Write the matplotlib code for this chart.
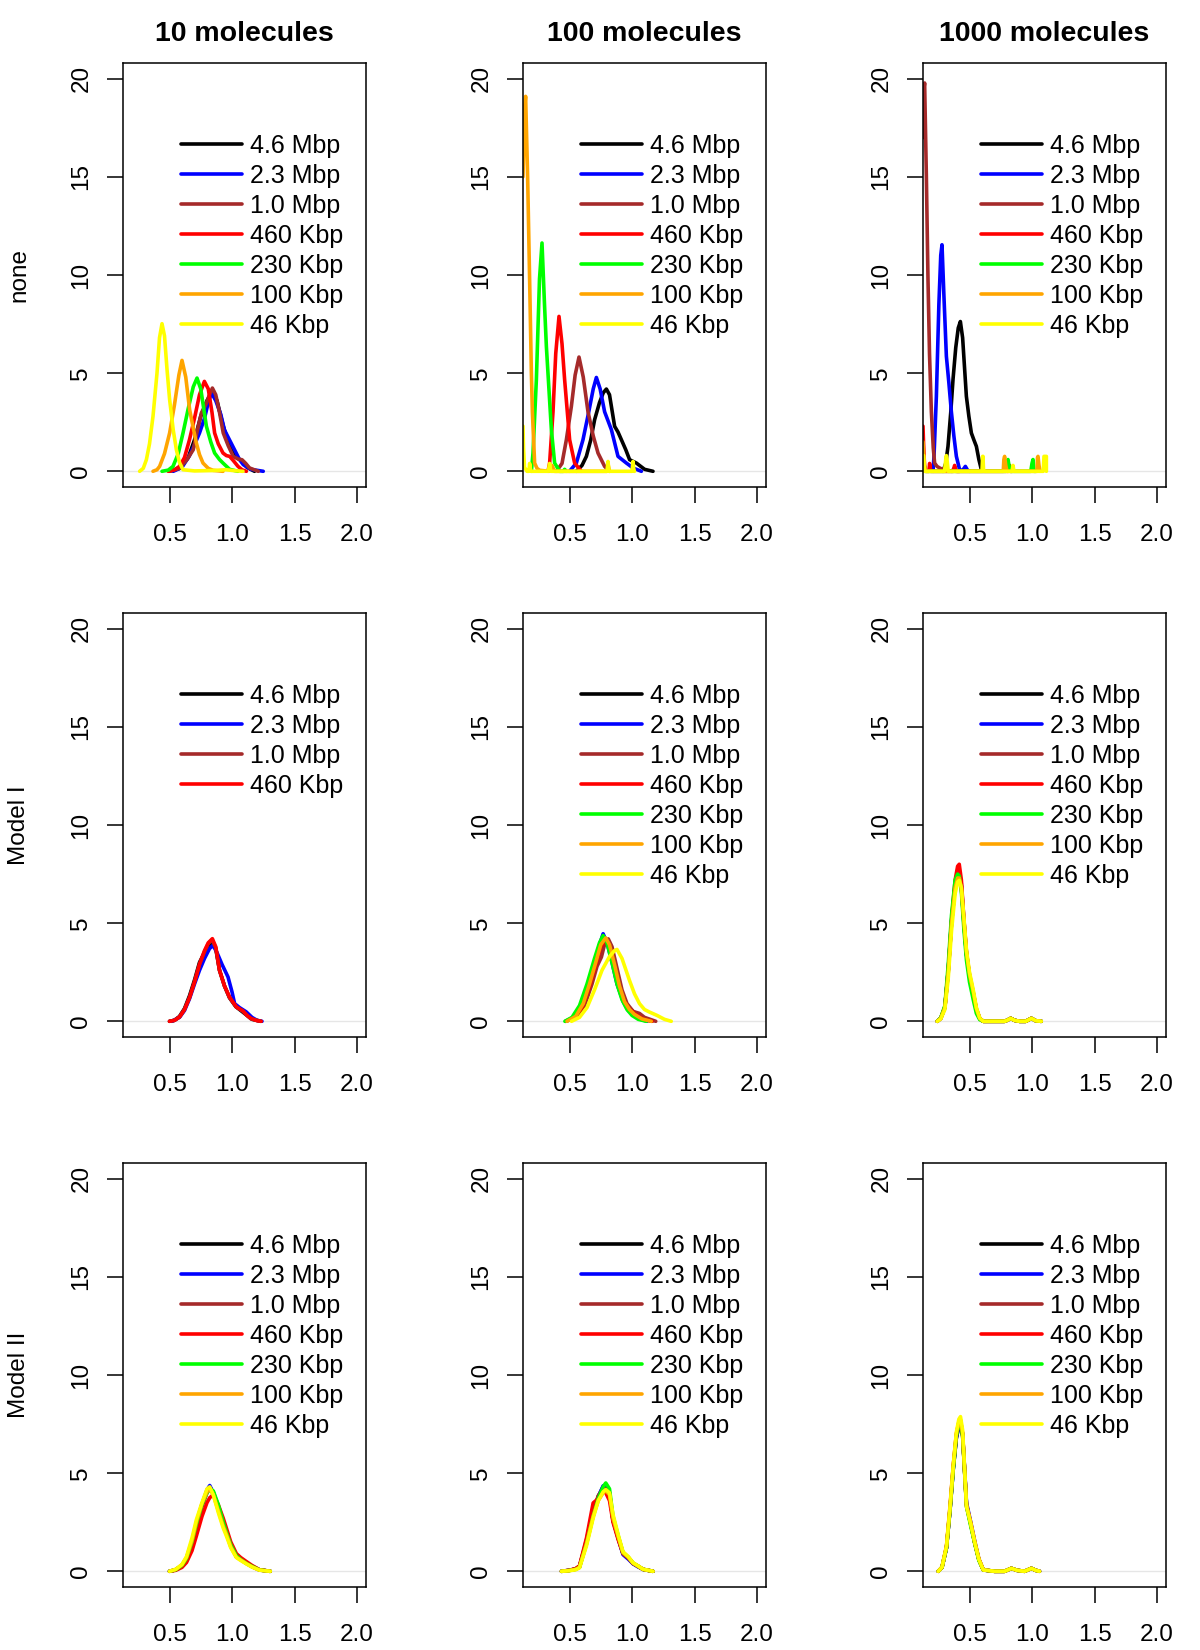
import matplotlib
matplotlib.use("Agg")
import matplotlib.pyplot as plt

plt.rcParams['font.family'] = ['Liberation Sans', 'DejaVu Sans']

# ---------------- data ----------------
col_titles = ["10 molecules", "100 molecules", "1000 molecules"]
row_labels = ["none", "Model I", "Model II"]
sizes = ["4.6 Mbp", "2.3 Mbp", "1.0 Mbp", "460 Kbp", "230 Kbp", "100 Kbp", "46 Kbp"]
colors = ["#000000", "#0000FF", "#A52A2A", "#FF0000", "#00FF00", "#FFA500", "#FFFF00"]
x_ticks = [0.5, 1.0, 1.5, 2.0]
y_ticks = [0, 5, 10, 15, 20]

# none, 10 molecules
none_10 = {
    "4.6 Mbp": ([0.50, 0.58, 0.65, 0.70, 0.75, 0.80, 0.84, 0.88, 0.93, 0.98, 1.02, 1.07, 1.12, 1.18],
                [0, 0.15, 0.7, 1.6, 2.8, 3.6, 4.05, 3.6, 2.3, 1.3, 0.8, 0.55, 0.2, 0]),
    "2.3 Mbp": ([0.53, 0.60, 0.66, 0.71, 0.74, 0.78, 0.81, 0.835, 0.87, 0.91, 0.94, 0.98, 1.02, 1.06, 1.09, 1.15, 1.25],
                [0, 0.2, 0.8, 1.5, 1.95, 2.7, 3.5, 4.0, 3.6, 2.9, 2.1, 1.6, 1.1, 0.6, 0.34, 0.1, 0]),
    "1.0 Mbp": ([0.50, 0.58, 0.64, 0.69, 0.72, 0.755, 0.79, 0.82, 0.843, 0.87, 0.90, 0.93, 0.97, 1.01, 1.05, 1.08, 1.11, 1.14, 1.21],
                [0, 0.15, 0.6, 1.1, 2.0, 2.97, 3.4, 3.9, 4.24, 3.9, 3.0, 1.95, 1.3, 0.76, 0.62, 0.59, 0.4, 0.17, 0]),
    "460 Kbp": ([0.49, 0.54, 0.58, 0.62, 0.66, 0.70, 0.74, 0.779, 0.81, 0.84, 0.861, 0.89, 0.928, 0.955, 0.981, 1.01, 1.048, 1.08, 1.115],
                [0, 0.08, 0.25, 0.7, 1.61, 2.7, 3.9, 4.58, 4.2, 3.0, 1.95, 1.4, 0.93, 0.8, 0.76, 0.55, 0.25, 0.08, 0]),
    "230 Kbp": ([0.44, 0.49, 0.528, 0.57, 0.608, 0.65, 0.69, 0.72, 0.75, 0.795, 0.83, 0.861, 0.90, 0.928, 0.981, 1.048],
                [0, 0.06, 0.25, 0.9, 1.95, 3.2, 4.3, 4.75, 4.2, 2.3, 1.5, 0.93, 0.6, 0.42, 0.1, 0]),
    "100 Kbp": ([0.368, 0.40, 0.421, 0.46, 0.501, 0.54, 0.575, 0.60, 0.63, 0.661, 0.69, 0.715, 0.74, 0.768, 0.81, 0.848, 0.928],
                [0, 0.08, 0.25, 0.9, 1.95, 3.4, 4.9, 5.65, 4.8, 3.14, 2.2, 1.44, 0.85, 0.42, 0.15, 0.05, 0]),
    "46 Kbp": ([0.261, 0.29, 0.315, 0.34, 0.368, 0.40, 0.42, 0.44, 0.46, 0.48, 0.501, 0.53, 0.555, 0.58, 0.608, 0.70, 0.85, 0.95, 1.02, 1.088],
               [0, 0.15, 0.59, 1.4, 2.8, 5.0, 6.8, 7.52, 6.9, 5.2, 3.65, 2.1, 1.1, 0.45, 0.08, 0.02, 0.04, 0.08, 0.03, 0]),
}

# none, 100 molecules
none_100 = {
    "4.6 Mbp": ([0.555, 0.60, 0.635, 0.67, 0.701, 0.74, 0.77, 0.795, 0.82, 0.861, 0.888, 0.915, 0.95, 0.981, 1.035, 1.07, 1.101, 1.168],
                [0, 0.3, 0.76, 1.6, 2.63, 3.5, 4.0, 4.19, 3.9, 2.29, 2.0, 1.61, 1.1, 0.59, 0.42, 0.25, 0.1, 0]),
    "2.3 Mbp": ([0.50, 0.555, 0.608, 0.65, 0.69, 0.715, 0.745, 0.781, 0.835, 0.888, 0.955, 1.008, 1.075],
                [0, 0.42, 1.61, 2.9, 4.2, 4.78, 4.2, 3.03, 2.12, 0.76, 0.42, 0.17, 0]),
    "1.0 Mbp": ([0.395, 0.44, 0.475, 0.515, 0.545, 0.576, 0.61, 0.648, 0.69, 0.728, 0.781, 0.821],
                [0, 0.4, 1.61, 3.31, 4.9, 5.82, 4.8, 3.03, 1.8, 0.93, 0.25, 0]),
    "460 Kbp": ([0.328, 0.341, 0.368, 0.39, 0.416, 0.44, 0.461, 0.501, 0.541, 0.595],
                [0, 0.42, 3.03, 6.0, 7.89, 6.5, 4.67, 1.61, 0.42, 0]),
    "230 Kbp": ([0.195, 0.208, 0.235, 0.26, 0.28, 0.30, 0.315, 0.355, 0.381, 0.421, 0.45, 0.461, 0.475],
                [0, 0.93, 4.67, 9.8, 11.63, 8.5, 6.36, 2.12, 0.42, 0, 0, 0.1, 0]),
    "100 Kbp": ([0.128, 0.14, 0.149, 0.165, 0.181, 0.195, 0.203, 0.221, 0.24, 0.261, 0.34, 0.36, 0.38, 0.43, 0.80, 0.81, 0.82],
                [15, 18.5, 19.1, 15, 9.76, 5, 3.03, 0.42, 0.15, 0.05, 0, 0.3, 0, 0, 0, 0.3, 0]),
    "46 Kbp": ([0.128, 0.132, 0.14, 0.16, 0.175, 0.181, 0.19, 0.33, 0.341, 0.35, 0.80, 0.808, 0.816, 1.0, 1.008, 1.016, 1.02],
               [2.3, 1.2, 0.2, 0, 0, 0.4, 0, 0, 0.4, 0, 0, 0.5, 0, 0, 0.5, 0, 0]),
}

# none, 1000 molecules
none_1000 = {
    "4.6 Mbp": ([0.288, 0.31, 0.328, 0.35, 0.368, 0.39, 0.41, 0.427, 0.445, 0.475, 0.495, 0.515, 0.535, 0.555, 0.575, 0.595],
                [0, 0.4, 1.27, 3.0, 4.67, 6.3, 7.3, 7.63, 6.8, 3.82, 2.8, 1.95, 1.6, 1.27, 0.6, 0.08]),
    "2.3 Mbp": ([0.208, 0.216, 0.235, 0.255, 0.27, 0.28, 0.295, 0.315, 0.335, 0.355, 0.375, 0.395, 0.421, 0.445, 0.467, 0.485, 0.501],
                [0, 0.76, 3.82, 8.5, 11.0, 11.54, 9.0, 5.86, 4.5, 3.03, 1.8, 0.76, 0.08, 0.05, 0.25, 0.05, 0]),
    "1.0 Mbp": ([0.128, 0.135, 0.141, 0.155, 0.168, 0.18, 0.195, 0.21, 0.221, 0.24, 0.261, 0.30, 0.36, 0.381, 0.40, 0.42],
                [17, 19.5, 19.78, 15, 9.76, 6, 3.03, 1.2, 0.42, 0.25, 0.17, 0.05, 0, 0.2, 0, 0]),
    "460 Kbp": ([0.128, 0.132, 0.14, 0.15, 0.175, 0.181, 0.19, 0.37, 0.381, 0.39, 0.81, 0.821, 0.83, 0.84],
                [2.3, 1.5, 0.3, 0, 0, 0.4, 0, 0, 0.3, 0, 0, 0.3, 0, 0]),
    "230 Kbp": ([0.128, 0.134, 0.145, 0.79, 0.80, 0.808, 0.816, 0.825, 0.99, 1.0, 1.008, 1.016, 1.03],
                [0.8, 0.5, 0, 0, 0.4, 0.6, 0.3, 0, 0, 0.4, 0.6, 0, 0]),
    "100 Kbp": ([0.128, 0.132, 0.14, 0.15, 0.77, 0.775, 0.781, 0.79, 0.80, 1.04, 1.044, 1.048, 1.056, 1.065],
                [1.5, 1.0, 0.3, 0, 0, 0.6, 0.76, 0.3, 0, 0, 0.7, 0.76, 0.3, 0]),
    "46 Kbp": ([0.128, 0.133, 0.14, 0.30, 0.31, 0.315, 0.32, 0.33, 0.60, 0.605, 0.608, 0.612, 0.62, 0.84, 0.848, 0.856, 1.09, 1.096, 1.10, 1.11, 1.115, 1.115],
               [0.8, 0.8, 0, 0, 0.6, 0.8, 0.6, 0, 0, 0.76, 0.76, 0.1, 0, 0, 0.3, 0, 0, 0.76, 0.76, 0.76, 0.76, 0]),
}

# Model I, 10 molecules
model1_10 = {
    "4.6 Mbp": ([0.50, 0.54, 0.58, 0.62, 0.66, 0.70, 0.74, 0.78, 0.81, 0.84, 0.87, 0.90, 0.94, 0.98, 1.03, 1.08, 1.12, 1.16, 1.23],
                [0, 0.05, 0.25, 0.65, 1.3, 2.1, 3.0, 3.5, 3.85, 4.0, 3.7, 2.6, 1.8, 1.2, 0.75, 0.5, 0.3, 0.1, 0]),
    "2.3 Mbp": ([0.52, 0.58, 0.62, 0.66, 0.70, 0.74, 0.78, 0.82, 0.848, 0.88, 0.92, 0.968, 1.0, 1.021, 1.06, 1.114, 1.16, 1.20, 1.24],
                [0, 0.2, 0.55, 1.15, 1.9, 2.6, 3.2, 3.7, 3.87, 3.5, 2.9, 2.26, 1.5, 0.9, 0.7, 0.48, 0.2, 0.05, 0]),
    "1.0 Mbp": ([0.50, 0.54, 0.58, 0.62, 0.66, 0.70, 0.74, 0.78, 0.81, 0.84, 0.87, 0.90, 0.94, 0.98, 1.035, 1.085, 1.12, 1.15, 1.23],
                [0, 0.05, 0.22, 0.6, 1.2, 2.0, 2.9, 3.55, 3.95, 4.15, 3.75, 2.6, 1.8, 1.2, 0.72, 0.52, 0.3, 0.13, 0]),
    "460 Kbp": ([0.50, 0.54, 0.58, 0.62, 0.662, 0.70, 0.742, 0.78, 0.81, 0.843, 0.87, 0.90, 0.94, 0.98, 1.035, 1.088, 1.12, 1.154, 1.20, 1.234],
                [0, 0.05, 0.22, 0.6, 1.24, 2.0, 2.94, 3.6, 4.0, 4.21, 3.8, 2.6, 1.8, 1.24, 0.73, 0.53, 0.3, 0.14, 0.03, 0]),
}

# Model I, 100 molecules
model1_100 = {
    "4.6 Mbp": ([0.47, 0.54, 0.60, 0.66, 0.71, 0.75, 0.78, 0.81, 0.85, 0.89, 0.93, 0.98, 1.03, 1.09, 1.16],
                [0, 0.2, 0.75, 1.8, 2.9, 3.8, 4.2, 3.9, 3.0, 1.9, 1.1, 0.65, 0.4, 0.12, 0]),
    "2.3 Mbp": ([0.47, 0.53, 0.59, 0.65, 0.70, 0.74, 0.769, 0.80, 0.84, 0.88, 0.93, 0.97, 1.02, 1.07, 1.12],
                [0, 0.2, 0.7, 1.7, 2.9, 3.9, 4.46, 4.0, 3.0, 1.9, 1.0, 0.55, 0.3, 0.1, 0]),
    "1.0 Mbp": ([0.47, 0.55, 0.62, 0.68, 0.72, 0.755, 0.78, 0.81, 0.84, 0.88, 0.92, 0.96, 1.01, 1.06, 1.10, 1.19],
                [0, 0.2, 0.8, 1.9, 2.8, 3.27, 3.9, 4.2, 3.8, 2.7, 1.6, 0.9, 0.5, 0.4, 0.2, 0]),
    "460 Kbp": ([0.47, 0.54, 0.60, 0.66, 0.71, 0.75, 0.78, 0.81, 0.85, 0.89, 0.93, 0.98, 1.03, 1.09, 1.16],
                [0, 0.2, 0.7, 1.8, 2.9, 3.8, 4.1, 3.95, 3.0, 1.9, 1.1, 0.6, 0.35, 0.1, 0]),
    "230 Kbp": ([0.463, 0.52, 0.58, 0.64, 0.70, 0.74, 0.769, 0.80, 0.84, 0.88, 0.92, 0.96, 1.0, 1.05, 1.114],
                [0, 0.2, 0.8, 1.9, 3.2, 4.0, 4.37, 4.0, 3.0, 1.9, 1.1, 0.6, 0.3, 0.1, 0]),
    "100 Kbp": ([0.48, 0.55, 0.61, 0.66, 0.71, 0.75, 0.79, 0.82, 0.86, 0.90, 0.94, 0.98, 1.02, 1.08, 1.154],
                [0, 0.25, 0.9, 1.9, 3.0, 3.9, 4.25, 3.9, 2.9, 1.8, 1.0, 0.6, 0.35, 0.12, 0]),
    "46 Kbp": ([0.516, 0.58, 0.64, 0.70, 0.76, 0.82, 0.86, 0.88, 0.92, 0.98, 1.02, 1.06, 1.10, 1.14, 1.20, 1.26, 1.314],
               [0, 0.2, 0.7, 1.6, 2.6, 3.3, 3.6, 3.66, 3.2, 2.08, 1.4, 0.9, 0.6, 0.47, 0.3, 0.1, 0]),
}

# Model I, 1000 molecules
m1k_x = [0.242, 0.27, 0.303, 0.33, 0.356, 0.385, 0.405, 0.418, 0.435, 0.455, 0.476, 0.50, 0.53, 0.555, 0.582, 0.61,
         0.70, 0.78, 0.80, 0.83, 0.86, 0.90, 0.95, 0.995, 1.03, 1.074]
model1_1000 = {
    "4.6 Mbp": (m1k_x, [0, 0.15, 0.7, 2.6, 5.0, 6.9, 7.4, 7.4, 6.8, 5.0, 3.4, 2.3, 1.4, 0.6, 0.14, 0, 0, 0, 0.05, 0.15, 0.05, 0, 0, 0.15, 0.03, 0]),
    "2.3 Mbp": (m1k_x, [0, 0.15, 0.72, 2.6, 5.1, 7.0, 7.5, 7.5, 6.9, 5.1, 3.4, 2.3, 1.4, 0.6, 0.14, 0, 0, 0, 0.05, 0.15, 0.05, 0, 0, 0.15, 0.03, 0]),
    "1.0 Mbp": (m1k_x, [0, 0.15, 0.7, 2.5, 5.0, 6.9, 7.5, 7.6, 7.0, 5.2, 3.5, 2.35, 1.45, 0.6, 0.14, 0, 0, 0, 0.05, 0.15, 0.05, 0, 0, 0.15, 0.03, 0]),
    "460 Kbp": (m1k_x, [0, 0.15, 0.73, 2.6, 5.14, 7.2, 7.9, 8.0, 7.2, 5.2, 3.45, 2.3, 1.41, 0.6, 0.14, 0, 0, 0, 0.05, 0.15, 0.05, 0, 0, 0.15, 0.03, 0]),
    "230 Kbp": (m1k_x, [0, 0.18, 0.8, 2.9, 5.4, 7.2, 7.5, 7.4, 6.6, 4.7, 3.1, 2.0, 1.1, 0.4, 0.08, 0, 0, 0, 0.05, 0.15, 0.05, 0, 0, 0.15, 0.03, 0]),
    "100 Kbp": (m1k_x, [0, 0.15, 0.7, 2.5, 5.0, 6.8, 7.3, 7.3, 6.8, 5.1, 3.5, 2.4, 1.5, 0.65, 0.15, 0, 0, 0, 0.05, 0.15, 0.05, 0, 0, 0.15, 0.03, 0]),
    "46 Kbp": (m1k_x, [0, 0.12, 0.6, 2.2, 4.6, 6.5, 7.1, 7.18, 6.8, 5.3, 3.6, 2.5, 1.6, 0.7, 0.16, 0, 0, 0, 0.05, 0.15, 0.05, 0, 0, 0.15, 0.03, 0]),
}

# Model II, 10 molecules
m2_10_x = [0.50, 0.55, 0.60, 0.636, 0.68, 0.715, 0.76, 0.80, 0.822, 0.85, 0.89, 0.93, 0.955, 0.99, 1.035, 1.07, 1.114, 1.16, 1.22, 1.306]
model2_10 = {
    "4.6 Mbp": (m2_10_x, [0, 0.08, 0.3, 0.65, 1.45, 2.4, 3.4, 4.1, 4.3, 4.0, 3.2, 2.4, 1.95, 1.3, 0.75, 0.6, 0.41, 0.25, 0.07, 0]),
    "2.3 Mbp": (m2_10_x, [0, 0.08, 0.3, 0.65, 1.45, 2.4, 3.4, 4.15, 4.37, 4.0, 3.2, 2.4, 1.95, 1.3, 0.75, 0.6, 0.41, 0.25, 0.07, 0]),
    "1.0 Mbp": (m2_10_x, [0, 0.07, 0.28, 0.6, 1.35, 2.3, 3.3, 4.0, 4.2, 4.05, 3.3, 2.5, 2.0, 1.35, 0.8, 0.62, 0.43, 0.26, 0.07, 0]),
    "460 Kbp": (m2_10_x, [0, 0.05, 0.2, 0.45, 1.05, 1.8, 2.8, 3.5, 3.75, 3.9, 3.4, 2.7, 2.2, 1.5, 0.9, 0.7, 0.5, 0.3, 0.08, 0]),
    "230 Kbp": (m2_10_x, [0, 0.08, 0.3, 0.65, 1.5, 2.4, 3.4, 4.0, 4.2, 4.1, 3.4, 2.5, 2.0, 1.35, 0.8, 0.6, 0.41, 0.25, 0.07, 0]),
    "100 Kbp": (m2_10_x, [0, 0.1, 0.33, 0.7, 1.55, 2.5, 3.45, 4.05, 4.2, 3.9, 3.1, 2.3, 1.9, 1.25, 0.72, 0.58, 0.4, 0.22, 0.06, 0]),
    "46 Kbp": (m2_10_x, [0, 0.1, 0.35, 0.75, 1.7, 2.63, 3.5, 4.2, 4.3, 3.9, 3.0, 2.2, 1.8, 1.2, 0.7, 0.55, 0.38, 0.22, 0.06, 0]),
}

# Model II, 100 molecules
m2_100_x = [0.436, 0.50, 0.55, 0.58, 0.636, 0.689, 0.73, 0.769, 0.79, 0.82, 0.848, 0.89, 0.928, 0.97, 1.008, 1.05, 1.088, 1.168]
model2_100 = {
    "4.6 Mbp": (m2_100_x, [0, 0.05, 0.12, 0.24, 1.5, 2.9, 3.8, 4.3, 4.4, 4.0, 2.6, 1.7, 0.9, 0.7, 0.4, 0.25, 0.1, 0]),
    "2.3 Mbp": (m2_100_x, [0, 0.05, 0.12, 0.24, 1.5, 2.9, 3.8, 4.35, 4.4, 4.0, 2.6, 1.65, 0.85, 0.62, 0.38, 0.22, 0.1, 0]),
    "1.0 Mbp": (m2_100_x, [0, 0.05, 0.13, 0.26, 1.6, 3.1, 3.85, 4.2, 4.2, 3.9, 2.6, 1.7, 0.92, 0.7, 0.41, 0.25, 0.1, 0]),
    "460 Kbp": (m2_100_x, [0, 0.05, 0.14, 0.28, 1.7, 3.48, 3.7, 4.08, 4.0, 3.6, 2.5, 1.6, 0.9, 0.68, 0.4, 0.25, 0.1, 0]),
    "230 Kbp": (m2_100_x, [0, 0.04, 0.1, 0.2, 1.4, 2.8, 3.7, 4.3, 4.5, 4.2, 2.8, 1.8, 0.95, 0.72, 0.42, 0.26, 0.1, 0]),
    "100 Kbp": (m2_100_x, [0, 0.04, 0.1, 0.2, 1.4, 2.8, 3.6, 4.0, 4.1, 3.9, 2.7, 1.75, 0.95, 0.72, 0.42, 0.26, 0.1, 0]),
    "46 Kbp": (m2_100_x, [0, 0.03, 0.08, 0.18, 1.3, 2.7, 3.6, 4.05, 4.16, 4.0, 2.9, 1.85, 1.0, 0.75, 0.44, 0.27, 0.11, 0]),
}

# Model II, 1000 molecules
m2k_x = [0.25, 0.28, 0.316, 0.345, 0.37, 0.395, 0.415, 0.428, 0.445, 0.476, 0.51, 0.543, 0.575, 0.61,
         0.70, 0.78, 0.835, 0.88, 0.94, 0.995, 1.03, 1.06]
model2_1000 = {
    "4.6 Mbp": (m2k_x, [0, 0.2, 1.2, 3.2, 5.2, 6.8, 7.4, 7.5, 6.9, 3.4, 2.4, 1.4, 0.6, 0.07, 0, 0, 0.15, 0.05, 0, 0.15, 0.05, 0]),
    "2.3 Mbp": (m2k_x, [0, 0.2, 1.2, 3.2, 5.2, 6.8, 7.4, 7.5, 7.0, 3.5, 2.5, 1.5, 0.6, 0.07, 0, 0, 0.15, 0.05, 0, 0.15, 0.05, 0]),
    "1.0 Mbp": (m2k_x, [0, 0.2, 1.2, 3.2, 5.3, 6.9, 7.5, 7.6, 7.0, 3.4, 2.4, 1.4, 0.6, 0.07, 0, 0, 0.15, 0.05, 0, 0.15, 0.05, 0]),
    "460 Kbp": (m2k_x, [0, 0.2, 1.26, 3.3, 5.36, 7.0, 7.6, 7.7, 7.0, 3.3, 2.4, 1.43, 0.6, 0.07, 0, 0, 0.15, 0.05, 0, 0.15, 0.05, 0]),
    "230 Kbp": (m2k_x, [0, 0.2, 1.2, 3.2, 5.2, 6.9, 7.5, 7.6, 6.9, 3.3, 2.3, 1.4, 0.55, 0.07, 0, 0, 0.15, 0.05, 0, 0.15, 0.05, 0]),
    "100 Kbp": (m2k_x, [0, 0.22, 1.3, 3.4, 5.4, 7.0, 7.6, 7.7, 7.0, 3.4, 2.5, 1.5, 0.65, 0.08, 0, 0, 0.15, 0.05, 0, 0.15, 0.05, 0]),
    "46 Kbp": (m2k_x, [0, 0.2, 1.26, 3.3, 5.36, 7.1, 7.75, 7.88, 7.2, 3.31, 2.4, 1.43, 0.6, 0.07, 0, 0, 0.15, 0.05, 0, 0.15, 0.05, 0]),
}

panels = [[none_10, none_100, none_1000],
          [model1_10, model1_100, model1_1000],
          [model2_10, model2_100, model2_1000]]

# ---------------- figure ----------------
W, H = 1200, 1650
fig = plt.figure(figsize=(W / 100, H / 100), dpi=100)

cell_w, cell_h = 400, 550
box_left, box_w = 123, 243
box_top, box_h = 63, 424

for r in range(3):
    for c in range(3):
        left = (c * cell_w + box_left) / W
        bottom = 1 - (r * cell_h + box_top + box_h) / H
        ax = fig.add_axes([left, bottom, box_w / W, box_h / H])
        data = panels[r][c]
        ax.axhline(0, color="#e6e6e6", lw=1.0, zorder=1)
        for name, col in zip(sizes, colors):
            if name in data:
                xs, ys = data[name]
                ax.plot(xs, ys, color=col, lw=2.6, label=name, zorder=2,
                        solid_joinstyle="round", solid_capstyle="round")
        ax.set_xlim(0.128, 2.072)
        ax.set_ylim(-0.8, 20.8)
        ax.set_xticks(x_ticks)
        ax.set_xticklabels([f"{v:.1f}" for v in x_ticks])
        ax.set_yticks(y_ticks)
        ax.set_yticklabels([str(v) for v in y_ticks], rotation=90, va="center")
        ax.tick_params(direction="out", length=11.3, width=1.1, labelsize=17.5)
        ax.tick_params(axis="x", pad=15.3)
        ax.tick_params(axis="y", pad=10.8)
        for sp in ax.spines.values():
            sp.set_linewidth(1.1)
        leg = ax.legend(loc="upper left", bbox_to_anchor=(0.239, 0.833), frameon=False,
                        fontsize=18, handlelength=2.44, handletextpad=0.3,
                        labelspacing=0.24, borderpad=0, borderaxespad=0)
        for ln in leg.get_lines():
            ln.set_linewidth(2.6)
        if r == 0:
            ax.set_title(col_titles[c], fontsize=20.5, fontweight="bold", pad=15.5)
    fig.text(19 / W, 1 - (r * cell_h + box_top + box_h / 2) / H, row_labels[r],
             rotation=90, ha="center", va="center", fontsize=17.5)

fig.savefig("out.png", dpi=100)
